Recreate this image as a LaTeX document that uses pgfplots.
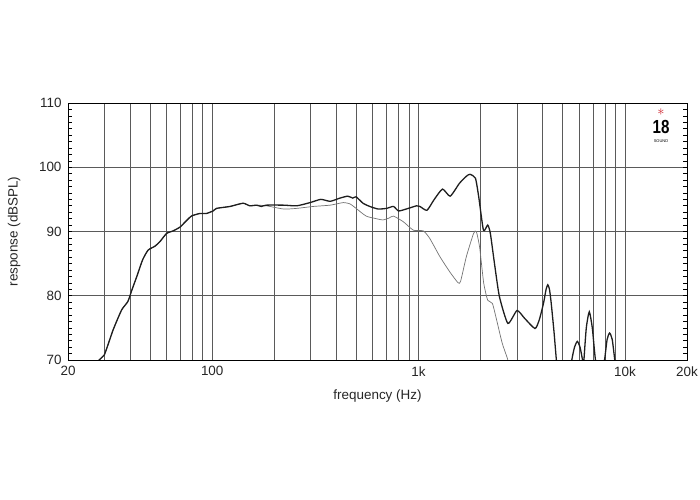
\documentclass[border=0pt]{standalone}
\usepackage{fontspec}
\setmainfont{Liberation Sans}
\usepackage{pgfplots}
\usepackage{pgfplotstable}
\pgfplotsset{compat=1.18}
\definecolor{curveA}{RGB}{30,30,30}
\definecolor{curveB}{RGB}{115,115,115}
\definecolor{gridc}{RGB}{90,90,90}
\definecolor{logored}{RGB}{205,35,45}

% on-axis response (dark)
\pgfplotstableread{
f db
26 67
28.3 70.0
30.0 70.8
33.1 74.7
36.4 77.8
39.0 79.1
40.8 80.9
43.1 83.0
46.0 85.6
48.9 87.1
52.7 87.7
55.7 88.4
60.1 89.7
64.7 90.1
69.9 90.7
74.0 91.5
79.3 92.4
87.0 92.8
93.6 92.8
101 93.2
105 93.6
122 93.9
141 94.4
152 94.0
164 94.1
173 93.9
183 94.1
222 94.1
257 94.0
298 94.5
336 95.0
373 94.7
416 95.2
454 95.5
480 95.2
498 95.4
538 94.4
580 93.9
637 93.5
700 93.6
756 93.9
800 93.2
872 93.5
978 94.0
1015 93.9
1098 93.3
1186 94.9
1306 96.6
1423 95.5
1578 97.5
1705 98.6
1774 98.9
1886 98.3
1957 95.4
2063 90.2
2163 91.0
2228 89.7
2331 85.1
2464 79.9
2709 75.7
3000 77.7
3263 76.5
3667 74.9
3850 76.3
4030 78.8
4150 81.0
4230 81.7
4310 81.0
4395 78.8
4530 74.5
4655 70.0
4800 66
5350 66
5530 70.0
5700 72.0
5880 72.9
6060 72.0
6230 70.0
6280 68.5
6330 70.0
6500 75.0
6720 77.5
6950 75.0
7200 70.0
7600 66
7970 70.0
8200 73.2
8430 74.2
8680 73.2
8930 70.0
9300 65
}\onaxis

% off-axis response (light)
\pgfplotstableread{
f db
26 67
28.3 70.0
30.0 70.8
33.1 74.7
36.4 77.8
39.0 79.1
40.8 80.9
43.1 83.0
46.0 85.6
48.9 87.1
52.7 87.7
55.7 88.4
60.1 89.7
64.7 90.1
69.9 90.7
74.0 91.5
79.3 92.4
87.0 92.8
93.6 92.8
101 93.2
105 93.6
122 93.9
141 94.4
152 94.0
164 94.1
183 94.0
222 93.5
257 93.6
309 93.9
373 94.1
432 94.5
465 94.3
498 93.6
557 92.4
623 92.0
672 91.8
720 92.1
756 92.4
845 91.5
944 90.2
1054 90.1
1134 88.9
1268 86.1
1418 83.7
1556 82.0
1600 82.3
1705 86.1
1848 89.7
1905 90.0
1976 87.6
2068 82.0
2163 79.3
2280 78.8
2411 75.7
2544 72.6
2709 70.0
2850 67
}\offaxis

\begin{document}
\begin{tikzpicture}
\path[use as bounding box] (0,0) rectangle (700bp,500bp);
\begin{axis}[
    at={(68bp,140bp)}, anchor=south west,
    scale only axis, width=619bp, height=257bp,
    xmode=log, xmin=20, xmax=20000, ymin=70, ymax=110,
    xtick={20,100,1000,10000,20000},
    xticklabels={20,100,1k,10k,20k},
    minor xtick={30,40,50,60,70,80,90,200,300,400,500,600,700,800,900,
      2000,3000,4000,5000,6000,7000,8000,9000},
    ytick={70,80,90,100,110},
    xmajorgrids, xminorgrids, ymajorgrids,
    grid style={gridc, line width=0.8bp},
    minor grid style={gridc, line width=0.8bp},
    major tick length=0bp, minor tick length=0bp,
    axis line style={black, line width=0.9bp},
    /pgf/number format/assume math mode=true,
    tick label style={font=\fontsize{13.5}{16}\selectfont, text=black!85},
    xticklabel style={yshift=-3bp},
    yticklabel style={xshift=-3bp},
    label style={font=\fontsize{13.5}{16}\selectfont, text=black!85},
    xlabel={frequency (Hz)},
    ylabel={response (dBSPL)},
    xlabel style={at={(axis description cs:0.5,-0.14)}, anchor=center},
    ylabel style={at={(axis description cs:-0.087,0.5)}, anchor=center},
  ]
  \addplot[curveB, line width=0.7bp, smooth, tension=0.35] table[x=f, y=db] {\offaxis};
  \addplot[curveA, line width=1.3bp, smooth, tension=0.35] table[x=f, y=db] {\onaxis};
  % 1 dB tick marks on both side rails (about 4bp long)
  \pgfplotsinvokeforeach{71,...,109}{
    \draw[black, line width=0.6bp] (axis cs:20,#1) -- (axis cs:20.9,#1);
    \draw[black, line width=0.6bp] (axis cs:19130,#1) -- (axis cs:20000,#1);
  }
  \node[text=logored, font=\fontsize{14}{14}\selectfont, inner sep=0pt] at (rel axis cs:0.958,0.965) {$\ast$};
  \node[font=\bfseries\fontsize{19}{19}\selectfont, inner sep=0pt, xscale=0.8] at (rel axis cs:0.958,0.905) {18};
  \node[font=\fontsize{4}{4}\selectfont, inner sep=0pt] at (rel axis cs:0.958,0.85) {SOUND};
\end{axis}
\end{tikzpicture}
\end{document}
